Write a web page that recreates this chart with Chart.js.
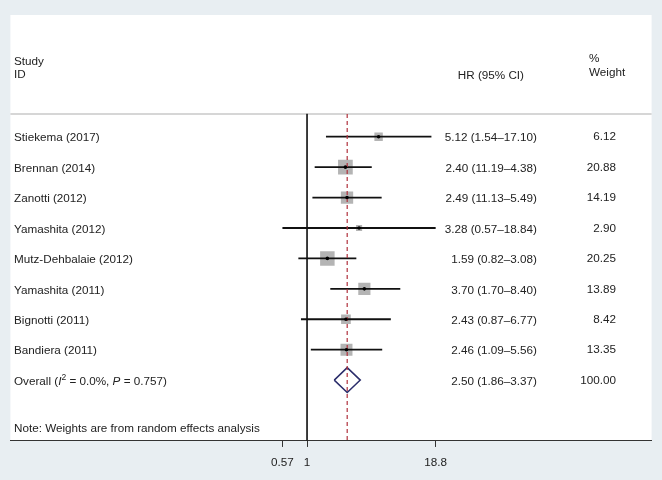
<!DOCTYPE html>
<html><head><meta charset="utf-8">
<script src="https://cdn.jsdelivr.net/npm/chart.js@4"></script>
<style>html,body{margin:0;padding:0;background:#e8eef2;}#wrap{width:662px;height:480px;}</style>
</head><body><div id="wrap"><canvas id="c" width="662" height="480"></canvas></div>
<script>
const studies = ["Stiekema (2017)", "Brennan (2014)", "Zanotti (2012)", "Yamashita (2012)", "Mutz-Dehbalaie (2012)", "Yamashita (2011)", "Bignotti (2011)", "Bandiera (2011)"];
const hr = [5.12, 2.40, 2.49, 3.28, 1.59, 3.70, 2.43, 2.46];
const ciLow = [1.54, 1.19, 1.13, 0.57, 0.82, 1.70, 0.87, 1.09];
const ciHigh = [17.10, 4.38, 5.49, 18.84, 3.08, 8.40, 6.77, 5.56];
const hrLabels = ["5.12 (1.54–17.10)", "2.40 (11.19–4.38)", "2.49 (11.13–5.49)", "3.28 (0.57–18.84)", "1.59 (0.82–3.08)", "3.70 (1.70–8.40)", "2.43 (0.87–6.77)", "2.46 (1.09–5.56)"];
const weights = [6.12, 20.88, 14.19, 2.90, 20.25, 13.89, 8.42, 13.35];
const weightLabels = ["6.12", "20.88", "14.19", "2.90", "20.25", "13.89", "8.42", "13.35"];
const overallHR = 2.50, overallLow = 1.86, overallHigh = 3.37;
const overallHRLabel = "2.50 (1.86–3.37)";
const overallWeightLabel = "100.00";
const noteText = "Note: Weights are from random effects analysis";
const xTicks = [0.57, 1, 18.8];

const FONT = '"Liberation Sans", Arial, sans-serif';
const FS = 11.7;
const TXT = '#222';
const overallRow = studies.length;      // 8
const noteRow = overallRow + 1.54;
const headerLineRow = -0.75;
const diamondHalf = 0.41;

const datasets = [];
// dots
datasets.push({data: hr.map((v,i)=>({x:v,y:i})), pointStyle:'circle', pointRadius:1.8, backgroundColor:'#000', borderWidth:0, order:0});
// dashed overall line
datasets.push({data:[{x:overallHR,y:headerLineRow},{x:overallHR,y:10}], showLine:true, pointRadius:0, borderColor:'#b0303c', borderWidth:1.2, borderDash:[4,3], order:0});
// CI lines
studies.forEach((s,i)=>{
  datasets.push({data:[{x:ciLow[i],y:i},{x:ciHigh[i],y:i}], showLine:true, pointRadius:0, borderColor:'#111', borderWidth:1.8, order:1});
});
// diamond
datasets.push({data:[{x:overallLow,y:overallRow},{x:overallHR,y:overallRow-diamondHalf},{x:overallHigh,y:overallRow},{x:overallHR,y:overallRow+diamondHalf},{x:overallLow,y:overallRow}],
  showLine:true, pointRadius:0, borderColor:'#2b2d6b', borderWidth:1.5, fill:false, tension:0, order:1});
// null line
datasets.push({data:[{x:1,y:headerLineRow},{x:1,y:10}], showLine:true, pointRadius:0, borderColor:'#222', borderWidth:1, order:2});
// squares
datasets.push({data: hr.map((v,i)=>({x:v,y:i})), pointStyle:'rect',
  pointRadius: ctx => (3.0*Math.sqrt(weights[ctx.dataIndex]) + 1) / Math.SQRT2,
  backgroundColor:'#b4b4b4', borderWidth:0, order:3});

const panelPlugin = {
  id:'panel',
  beforeDraw(chart){
    const {ctx, chartArea:a} = chart;
    ctx.save(); ctx.fillStyle='#fff'; ctx.fillRect(a.left, a.top, a.right-a.left, a.bottom-a.top); ctx.restore();
  },
  beforeDatasetsDraw(chart){
    const {ctx, chartArea:a, scales:{y}} = chart;
    const yy = y.getPixelForValue(headerLineRow);
    ctx.save(); ctx.strokeStyle='#c9c9c9'; ctx.lineWidth=1.5;
    ctx.beginPath(); ctx.moveTo(a.left, yy); ctx.lineTo(a.right, yy); ctx.stroke(); ctx.restore();
  },
  afterDatasetsDraw(chart){
    const {ctx, scales:{y}} = chart;
    ctx.save();
    ctx.fillStyle = TXT; ctx.textBaseline='middle';
    const F = FS + 'px ' + FONT;
    ctx.font = F;
    const py = r => y.getPixelForValue(r) + 1.5;
    // headers
    ctx.textAlign='left';
    ctx.fillText('Study', 14, y.getPixelForValue(-2.45));
    ctx.fillText('ID', 14, y.getPixelForValue(-2.03));
    ctx.fillText('%', 589, y.getPixelForValue(-2.55));
    ctx.fillText('Weight', 589, y.getPixelForValue(-2.09));
    ctx.textAlign='right';
    ctx.fillText('HR (95% CI)', 524, y.getPixelForValue(-2.0));
    // rows
    studies.forEach((s,i)=>{
      ctx.textAlign='left'; ctx.fillText(s, 14, py(i));
      ctx.textAlign='right'; ctx.fillText(hrLabels[i], 537, py(i));
      ctx.fillText(weightLabels[i], 616, py(i) - 1);
    });
    ctx.textAlign='right';
    ctx.fillText(overallHRLabel, 537, py(overallRow));
    ctx.fillText(overallWeightLabel, 616, py(overallRow) - 1);
    // overall label with italics & superscript
    ctx.textAlign='left';
    let x = 14; const oy = py(overallRow);
    const part = (t, f, dy=0) => { ctx.font = f; ctx.fillText(t, x, oy+dy); x += ctx.measureText(t).width; };
    part('Overall (', F);
    part('I', 'italic ' + F);
    part('2', '8.5px ' + FONT, -4);
    part(' = 0.0%, ', F);
    part('P', 'italic ' + F);
    part(' = 0.757)', F);
    ctx.font = F;
    ctx.fillText(noteText, 14, py(noteRow));
    ctx.restore();
  }
};

new Chart(document.getElementById('c'), {
  type:'scatter',
  data:{datasets},
  options:{
    responsive:false, animation:false,
    layout:{padding:{left:9,right:9,top:15,bottom:2}},
    plugins:{legend:{display:false}, tooltip:{enabled:false}, title:{display:false}},
    scales:{
      x:{type:'logarithmic', min:0.001145, max:2606, bounds:'data',
        afterBuildTicks: s => { s.ticks = xTicks.map(v=>({value:v})); },
        grid:{drawOnChartArea:false, drawTicks:true, tickLength:6, color:'#333', lineWidth:1},
        border:{display:true, color:'#333', width:1},
        ticks:{padding:8.5, color:TXT, font:{family:FONT, size:FS}, autoSkip:false, maxRotation:0, callback: v => String(v)}
      },
      y:{type:'linear', reverse:true, min:-4, max:10, display:false}
    }
  },
  plugins:[panelPlugin]
});
</script></body></html>
